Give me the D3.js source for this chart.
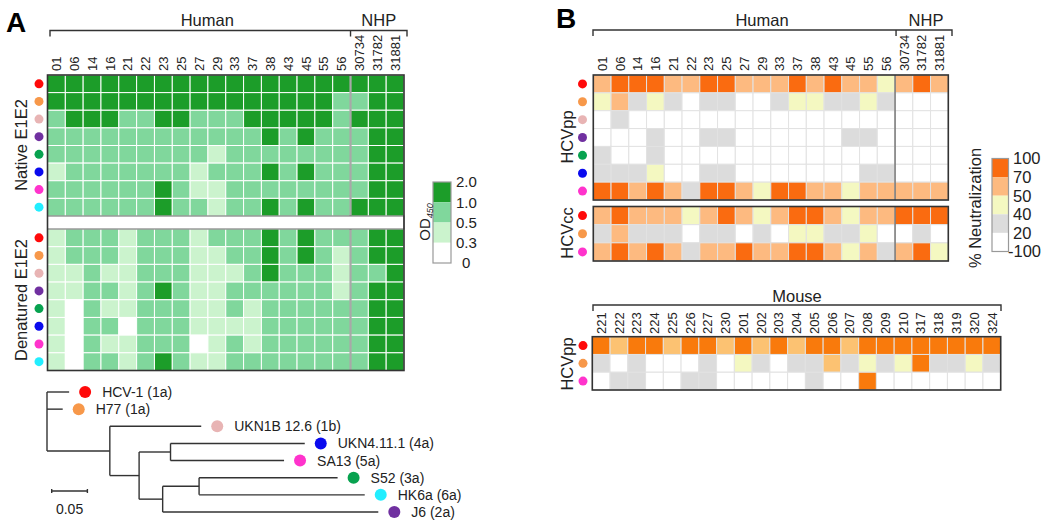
<!DOCTYPE html>
<html>
<head>
<meta charset="utf-8">
<style>
  body { margin: 0; background: #fff; }
  svg { font-family: Arial, "Liberation Sans", sans-serif; }
  .lbl { font-size: 13px; fill: #222; }
  .grp { font-size: 16.5px; fill: #222; }
  .panel { font-size: 28px; font-weight: bold; fill: #000; }
  .leaf { font-size: 14px; fill: #222; }
  .leg { font-size: 15px; fill: #222; }
</style>
</head>
<body>
<svg width="1050" height="526"></svg>
<script src="https://cdn.jsdelivr.net/npm/d3@7"></script>
<script>

// ---------- data ----------
var donors = ["01","06","14","16","21","22","23","25","27","29","33","37","38","43","45","55","56","30734","31782","31881"];
var nhpStart = 17;   // index of first NHP column
var mice = ["221","222","223","224","225","226","227","230","201","202","203","204","205","206","207","208","209","210","317","318","319","320","324"];

var strains = ["HCV-1","H77","UKN1B 12.6","J6","S52","UKN4.11.1","SA13","HK6a"];
var strainColor = {"HCV-1":"#ff0a0a","H77":"#f7984a","UKN1B 12.6":"#e8b4b4","J6":"#7030a0",
                   "S52":"#07a24f","UKN4.11.1":"#0a0aee","SA13":"#ff33cc","HK6a":"#22eeff"};

// OD450, native E1E2 (rows = strains)
var odNative = [
  [1.5,1.5,1.5,1.5,1.5,1.5,1.5,1.5,1.5,1.5,1.5,1.5,1.5,1.5,1.5,1.5,1.5,1.5,1.5,1.5],
  [1.5,1.5,1.5,1.5,1.5,1.5,1.5,1.5,1.5,1.5,1.5,1.5,1.5,1.5,1.5,1.5,0.7,0.7,1.5,1.5],
  [0.7,1.5,1.5,1.5,0.7,0.7,1.5,1.5,0.7,0.7,0.7,1.5,1.5,1.5,1.5,1.5,0.7,1.5,1.5,1.5],
  [0.7,0.7,0.7,0.7,0.7,0.7,0.7,0.7,0.7,0.7,0.7,0.7,1.5,0.7,1.5,0.7,0.7,0.7,1.5,1.5],
  [0.7,0.7,0.7,0.7,0.7,0.7,0.7,0.7,0.7,0.4,0.7,0.7,0.7,0.7,0.7,0.7,0.7,0.7,1.5,1.5],
  [0.4,0.7,0.7,0.7,0.7,0.7,0.7,0.7,0.4,0.7,0.7,0.7,1.5,0.7,1.5,0.7,0.7,0.7,1.5,1.5],
  [0.7,0.7,0.7,0.7,0.7,0.7,1.5,0.7,0.4,0.4,0.7,0.7,0.7,0.7,0.7,0.7,0.7,0.7,1.5,1.5],
  [0.7,0.7,0.7,0.7,0.7,0.7,1.5,0.7,0.7,0.4,0.7,0.7,1.5,0.7,1.5,0.7,0.7,1.5,1.5,1.5]
];
// OD450, denatured E1E2
var odDenat = [
  [0.4,0.7,0.7,0.7,0.4,0.7,0.7,0.7,0.4,0.7,0.7,0.7,1.5,0.7,1.5,0.7,0.7,0.7,1.5,1.5],
  [0.4,0.7,0.7,0.7,0.4,0.7,0.7,0.7,0.4,0.4,0.7,0.7,1.5,0.7,1.5,0.7,0.4,0.7,1.5,1.5],
  [0.4,0.4,0.7,0.4,0.4,0.7,0.7,0.7,0.4,0.4,0.4,0.7,1.5,0.7,0.7,0.7,0.4,0.7,0.7,1.5],
  [0.4,0.4,0.7,0.7,0.4,0.7,1.5,0.7,0.4,0.4,0.7,0.7,0.7,0.7,0.7,0.7,0.4,0.7,1.5,1.5],
  [0.4,0.1,0.7,0.4,0.4,0.7,0.7,0.7,0.4,0.4,0.7,0.4,0.7,0.7,0.7,0.7,0.7,0.7,1.5,1.5],
  [0.4,0.1,0.7,0.7,0.1,0.7,0.7,0.7,0.4,0.4,0.4,0.4,0.7,0.7,0.7,0.7,0.7,0.7,1.5,1.5],
  [0.4,0.1,0.7,0.4,0.4,0.7,0.7,0.7,0.1,0.4,0.7,0.4,0.7,0.7,0.7,0.7,0.7,0.7,1.5,1.5],
  [0.4,0.1,0.7,0.7,0.4,0.7,1.5,0.7,0.4,0.4,0.7,0.7,0.7,0.7,0.7,0.7,0.7,0.7,1.5,1.5]
];

// % neutralization
var ppStrains = ["HCV-1","H77","UKN1B 12.6","J6","S52","UKN4.11.1","SA13"];
var neutPP = [
  [60,85,85,85,60,60,85,85,60,60,60,85,60,85,60,60,45,60,85,60],
  [45,60,30,45,30, 5,30,30, 5, 5,30,45,45,30,30,45,30, 5, 5, 5],
  [ 5,30, 5, 5, 5, 5, 5, 5, 5, 5, 5, 5, 5, 5, 5, 5, 5, 5, 5, 5],
  [ 5, 5, 5,30, 5, 5,30,30, 5, 5, 5, 5, 5, 5,30,30, 5, 5, 5, 5],
  [30, 5, 5,30, 5, 5, 5, 5, 5, 5, 5, 5, 5, 5, 5, 5, 5, 5, 5, 5],
  [30,30,30,45, 5, 5,30,30, 5, 5, 5, 5, 5, 5, 5,30,30, 5, 5, 5],
  [85,85,60,85,60,30,85,85,60,45,85,85,60,60,45,60,60,60,60,60]
];
var ccStrains = ["HCV-1","H77","SA13"];
var neutCC = [
  [60,85,60,60,60,45,60,85,60,45,60,85,85,60,45,60,60,85,85,85],
  [30,60,30,30,30, 5,30,30, 5,30, 5,45,45,30,30,45, 5, 5,30, 5],
  [60,85,60,85,60,30,60,60,85,60,60,85,85,60,45,60,30,60,85,45]
];
var neutMouse = [
  [85,60,85,85,60,85,85,60,85,60,85,60,85,85,60,85,85,85,85,85,85,85,85],
  [30, 5,30, 5, 5, 5,30, 5,45,30, 5,30,30,60,30,45,30,45,85,30,30,45,30],
  [ 5,30,30, 5, 5,30,30, 5, 5, 5, 5, 5,30, 5, 5,85, 5, 5, 5, 5, 5, 5, 5]
];

var odTicks = ["2.0","1.0","0.5","0.3","0"];
var neutTicks = ["100","70","50","40","20","-100"];

// phylogeny (branch lengths, substitutions/site)
var tree = {name:"root", len:0, children:[
  {name:"HCV-1 (1a)", strain:"HCV-1", len:0.031},
  {name:"H77 (1a)", strain:"H77", len:0.022},
  {len:0.088, children:[
    {name:"UKN1B 12.6 (1b)", strain:"UKN1B 12.6", len:0.128},
    {len:0.041, children:[
      {len:0.044, children:[
        {name:"UKN4.11.1 (4a)", strain:"UKN4.11.1", len:0.188},
        {name:"SA13 (5a)", strain:"SA13", len:0.159}
      ]},
      {len:0.033, children:[
        {len:0.051, children:[
          {name:"S52 (3a)", strain:"S52", len:0.194},
          {name:"HK6a (6a)", strain:"HK6a", len:0.232}
        ]},
        {name:"J6 (2a)", strain:"J6", len:0.302}
      ]}
    ]}
  ]}
]};

// ---------- drawing ----------
var svg = d3.select("svg");
svg.append("rect").attr("width", 1050).attr("height", 526).attr("fill", "#fff");

var odColor = d3.scaleThreshold().domain([0.3, 0.5, 1.0])
    .range(["#ffffff", "#cbf3cd", "#80d79c", "#1c9d29"]);
var neutColor = d3.scaleThreshold().domain([20, 40, 50, 70])
    .range(["#ffffff", "#dcdcdc", "#f4f8c1", "#fdba80", "#fa6b10"]);
var mouseColor = d3.scaleThreshold().domain([20, 40, 50, 70])
    .range(["#ffffff", "#dcdcdc", "#f4f8c1", "#fcc272", "#f97a0c"]);

function heat(g, rows, cols, data, x, y, color, gridStroke) {
  rows.forEach(function(r, i) {
    g.selectAll(null).data(data[i]).enter().append("rect")
      .attr("x", function(d, j) { return x(cols[j]); })
      .attr("y", y(r))
      .attr("width", x.bandwidth())
      .attr("height", y.bandwidth())
      .attr("fill", function(d) { return color(d); })
      .attr("stroke", gridStroke)
      .attr("stroke-width", 1);
  });
}

function dots(g, rows, y, cx, r) {
  g.selectAll(null).data(rows).enter().append("circle")
    .attr("cx", cx)
    .attr("cy", function(d) { return y(d) + y.bandwidth() / 2; })
    .attr("r", r)
    .attr("fill", function(d) { return strainColor[d]; });
}

function colLabels(g, cols, x, yb) {
  g.selectAll(null).data(cols).enter().append("text")
    .attr("class", "lbl")
    .attr("transform", function(d) { return "translate(" + (x(d) + x.bandwidth() / 2) + "," + yb + ") rotate(-90)"; })
    .attr("dy", "0.36em")
    .text(function(d) { return d; });
}

function bracket(g, x0, x1, xs, yb) {
  g.append("path")
    .attr("d", "M" + x0 + "," + (yb + 6) + "V" + yb + "H" + x1 + "V" + (yb + 6) +
               (xs ? "M" + xs + "," + yb + "V" + (yb + 6) : ""))
    .attr("fill", "none").attr("stroke", "#333").attr("stroke-width", 1.4);
}

function vlabel(g, x, y, txt) {
  g.append("text").attr("class", "grp")
    .attr("transform", "translate(" + x + "," + y + ") rotate(-90)")
    .attr("text-anchor", "middle").attr("dy", "0.36em").text(txt);
}

function frame(g, x, y, rows, cols) {
  g.append("rect")
    .attr("x", x(cols[0])).attr("y", y(rows[0]))
    .attr("width", x.bandwidth() * cols.length).attr("height", y.bandwidth() * rows.length)
    .attr("fill", "none").attr("stroke", "#333").attr("stroke-width", 1.6);
}

// ----- panel A -----
var gA = svg.append("g");
gA.append("text").attr("class", "panel").attr("x", 6).attr("y", 32).text("A");

var xA = d3.scaleBand().domain(donors).range([47.5, 404]);
var yNat = d3.scaleBand().domain(strains).range([75, 216]);
var yDen = d3.scaleBand().domain(strains).range([229, 370.5]);

heat(gA, strains, donors, odNative, xA, yNat, odColor, "#fff");
heat(gA, strains, donors, odDenat, xA, yDen, odColor, "#fff");
[yNat, yDen].forEach(function(y) {
  gA.append("line")
    .attr("x1", xA(donors[nhpStart])).attr("x2", xA(donors[nhpStart]))
    .attr("y1", y.range()[0]).attr("y2", y.range()[1])
    .attr("stroke", "#a8a8a8").attr("stroke-width", 2.2);
});
gA.append("rect").attr("x", xA.range()[0]).attr("y", yNat.range()[1])
  .attr("width", xA.range()[1] - xA.range()[0]).attr("height", yDen.range()[0] - yNat.range()[1])
  .attr("fill", "#fff").attr("stroke", "#666").attr("stroke-width", 1);
gA.append("rect").attr("x", xA.range()[0]).attr("y", yNat.range()[0])
  .attr("width", xA.range()[1] - xA.range()[0]).attr("height", yDen.range()[1] - yNat.range()[0])
  .attr("fill", "none").attr("stroke", "#333").attr("stroke-width", 1.6);

dots(gA, strains, yNat, 39, 4.5);
dots(gA, strains, yDen, 39, 4.5);
colLabels(gA, donors, xA, 71);
bracket(gA, 50, 407, xA(donors[nhpStart]), 30.5);
gA.append("text").attr("class", "grp").attr("x", (50 + xA(donors[nhpStart])) / 2 + 7).attr("y", 26).attr("text-anchor", "middle").text("Human");
gA.append("text").attr("class", "grp").attr("x", (xA(donors[nhpStart]) + 407) / 2).attr("y", 26).attr("text-anchor", "middle").text("NHP");
vlabel(gA, 21, 145, "Native E1E2");
vlabel(gA, 21, 300, "Denatured E1E2");

// legend A
var lyA = d3.scalePoint().domain(odTicks).range([182, 263]);
var odMid = [1.5, 0.7, 0.4, 0.1];
odTicks.slice(0, -1).forEach(function(t, i) {
  gA.append("rect").attr("x", 433).attr("y", lyA(t)).attr("width", 18)
    .attr("height", lyA(odTicks[i + 1]) - lyA(t)).attr("fill", odColor(odMid[i]));
});
gA.append("rect").attr("x", 433).attr("y", 182).attr("width", 18).attr("height", 81)
  .attr("fill", "none").attr("stroke", "#999").attr("stroke-width", 1.2);
gA.selectAll(null).data(odTicks).enter().append("text").attr("class", "leg")
  .attr("x", function(d) { return d === "0" ? 462 : 456; }).attr("y", function(d) { return lyA(d); })
  .attr("dy", "0.36em").text(function(d) { return d; });
var odl = gA.append("text").attr("class", "leg")
  .attr("transform", "translate(425,222) rotate(-90)").attr("text-anchor", "middle").attr("dy", "0.36em");
odl.append("tspan").text("OD");
odl.append("tspan").attr("font-size", "9px").attr("font-style", "italic").attr("dy", "3").text("450");

// tree
var root = d3.hierarchy(tree);
var tx = d3.scaleLinear().domain([0, 0.05]).range([47, 82.7]);
var leaves = root.leaves();
var ty = d3.scalePoint().domain(leaves.map(function(d) { return d.data.name; })).range([392, 512]);
root.eachBefore(function(n) { n.dist = (n.parent ? n.parent.dist : 0) + n.data.len; });
root.eachAfter(function(n) {
  n.py = n.children ? (n.children[0].py + n.children[n.children.length - 1].py) / 2 : ty(n.data.name);
});
var gT = gA.append("g").attr("fill", "none").attr("stroke", "#333").attr("stroke-width", 1.4);
root.descendants().forEach(function(n) {
  if (n.children) {
    gT.append("line").attr("x1", tx(n.dist)).attr("x2", tx(n.dist))
      .attr("y1", n.children[0].py).attr("y2", n.children[n.children.length - 1].py);
  }
  if (n.parent) {
    gT.append("line").attr("x1", tx(n.parent.dist)).attr("x2", tx(n.dist))
      .attr("y1", n.py).attr("y2", n.py);
  }
});
leaves.forEach(function(n) {
  gA.append("circle").attr("cx", tx(n.dist) + 16).attr("cy", n.py).attr("r", 6)
    .attr("fill", strainColor[n.data.strain]);
  gA.append("text").attr("class", "leaf").attr("x", tx(n.dist) + 33).attr("y", n.py)
    .attr("dy", "0.36em").text(n.data.name);
});
var sbx = 51.7, sbw = tx(0.05) - tx(0);
gA.append("path").attr("d", "M" + sbx + ",489V493M" + sbx + ",491H" + (sbx + sbw) + "M" + (sbx + sbw) + ",489V493")
  .attr("fill", "none").attr("stroke", "#333").attr("stroke-width", 1.4);
gA.append("text").attr("class", "leaf").attr("x", sbx + sbw / 2).attr("y", 514).attr("text-anchor", "middle").text("0.05");

// ----- panel B -----
var gB = svg.append("g");
gB.append("text").attr("class", "panel").attr("x", 556).attr("y", 28).text("B");

var xB = d3.scaleBand().domain(donors).range([593.3, 948.3]);
var yPP = d3.scaleBand().domain(ppStrains).range([75, 200]);
var yCC = d3.scaleBand().domain(ccStrains).range([206.5, 261]);

heat(gB, ppStrains, donors, neutPP, xB, yPP, neutColor, "#e2e2e2");
heat(gB, ccStrains, donors, neutCC, xB, yCC, neutColor, "#e2e2e2");
[yPP, yCC].forEach(function(y) {
  gB.append("line")
    .attr("x1", xB(donors[nhpStart])).attr("x2", xB(donors[nhpStart]))
    .attr("y1", y.range()[0]).attr("y2", y.range()[1])
    .attr("stroke", "#666").attr("stroke-width", 1.3);
});
frame(gB, xB, yPP, ppStrains, donors);
frame(gB, xB, yCC, ccStrains, donors);
dots(gB, ppStrains, yPP, 582.5, 4.5);
dots(gB, ccStrains, yCC, 582.5, 4.5);
colLabels(gB, donors, xB, 71);
bracket(gB, 593, 952, xB(donors[nhpStart]) + 1, 30);
gB.append("text").attr("class", "grp").attr("x", 762).attr("y", 26).attr("text-anchor", "middle").text("Human");
gB.append("text").attr("class", "grp").attr("x", 926).attr("y", 26).attr("text-anchor", "middle").text("NHP");
vlabel(gB, 567, 137, "HCVpp");
vlabel(gB, 567, 233, "HCVcc");

// mouse block
var xM = d3.scaleBand().domain(mice).range([592.3, 1000.7]);
var yM = d3.scaleBand().domain(ccStrains).range([336.7, 390]);
heat(gB, ccStrains, mice, neutMouse, xM, yM, mouseColor, "#e2e2e2");
frame(gB, xM, yM, ccStrains, mice);
dots(gB, ccStrains, yM, 583, 4.5);
colLabels(gB, mice, xM, 334);
bracket(gB, 593, 1001, null, 305);
gB.append("text").attr("class", "grp").attr("x", 797).attr("y", 302).attr("text-anchor", "middle").text("Mouse");
vlabel(gB, 567, 364, "HCVpp");

// legend B
var lyB = d3.scalePoint().domain(neutTicks).range([158.5, 251.5]);
var neutMid = [85, 60, 45, 30, 5];
neutTicks.slice(0, -1).forEach(function(t, i) {
  gB.append("rect").attr("x", 992).attr("y", lyB(t)).attr("width", 16.5)
    .attr("height", lyB(neutTicks[i + 1]) - lyB(t)).attr("fill", neutColor(neutMid[i]));
});
gB.append("rect").attr("x", 992).attr("y", 158.5).attr("width", 16.5).attr("height", 93)
  .attr("fill", "none").attr("stroke", "#999").attr("stroke-width", 1.2);
gB.selectAll(null).data(neutTicks).enter().append("text").attr("class", "leg")
  .style("font-size", "16.5px")
  .attr("x", function(d) { return d === "-100" ? 1008 : 1013; }).attr("y", function(d) { return lyB(d); })
  .attr("dy", "0.36em").text(function(d) { return d; });
gB.append("text").attr("class", "leg").style("font-size", "16.5px")
  .attr("transform", "translate(975,208) rotate(-90)").attr("text-anchor", "middle").attr("dy", "0.36em")
  .text("% Neutralization");

</script>
</body>
</html>
